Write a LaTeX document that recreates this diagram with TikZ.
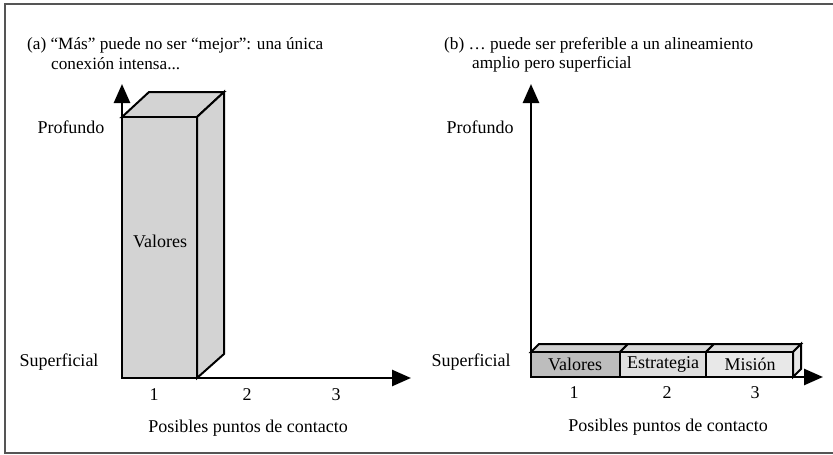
\documentclass[tikz,border=0pt]{standalone}
\usepackage{fontspec}
\setmainfont{Liberation Serif}
\usetikzlibrary{arrows.meta}
\definecolor{boxgray}{HTML}{D3D3D3}
\definecolor{vfront}{HTML}{BDBDBD}
\definecolor{vtop}{HTML}{D0D0D0}
\definecolor{efront}{HTML}{DEDEDE}
\definecolor{etop}{HTML}{D8D8D8}
\definecolor{mfront}{HTML}{E8E8E8}
\definecolor{mtop}{HTML}{DCDCDC}
\definecolor{framegray}{HTML}{555555}
\begin{document}
\begin{tikzpicture}[x=1pt,y=-1pt,
  txt/.style={font=\fontsize{18}{21}\selectfont, inner sep=0pt},
  ttl/.style={font=\fontsize{17.2}{20}\selectfont, inner sep=0pt, anchor=west},
  axis/.style={line width=2.6pt, -{Triangle[length=19pt,width=16pt]}},
  face/.style={draw=black, line width=2pt, line join=miter},
  frame/.style={draw=framegray, line width=2pt}]
\useasboundingbox (0,0) rectangle (833,455);
% frame
\draw[frame] (833,4) -- (5,4) -- (5,453) -- (833,453);

% ---------- panel (a)
\node[ttl] (ta1) at (27,45) {(a) “Más” puede no ser “mejor”: una única};
\node[ttl] (ta2) at (51,64) {conexión intensa...};
\coordinate (oa) at (122,378);
\coordinate (ya) at (122,84);
\coordinate (xa) at (411,378);
% tall box
\filldraw[face, fill=boxgray] (122,117) -- (149,92) -- (224,92) -- (197,117) -- cycle;
\filldraw[face, fill=boxgray] (197,117) -- (224,92) -- (224,354) -- (197,378) -- cycle;
\filldraw[face, fill=boxgray] (122,117) rectangle (197,378);
\node[txt] (va) at (160,241) {Valores};
\draw[axis] (oa) -- (ya);
\draw[axis] (oa) -- (xa);
\node[txt] (pa) at (71,127) {Profundo};
\node[txt] (sa) at (59,362) {Superficial};
\node[txt] (a1) at (154,395) {1};
\node[txt] (a2) at (247,395) {2};
\node[txt] (a3) at (336,395) {3};
\node[txt] (xla) at (248,428) {Posibles puntos de contacto};

% ---------- panel (b)
\node[ttl] (tb1) at (444,45) {(b) … puede ser preferible a un alineamiento};
\node[ttl] (tb2) at (472,64) {amplio pero superficial};
\coordinate (ob) at (531,377);
\coordinate (yb) at (531,84);
\coordinate (xb) at (823,377);
% flat boxes
\filldraw[face, fill=vtop] (531,352) -- (539,344) -- (628,344) -- (620,352) -- cycle;
\filldraw[face, fill=etop] (620,352) -- (628,344) -- (714,344) -- (706,352) -- cycle;
\filldraw[face, fill=mtop] (706,352) -- (714,344) -- (801,344) -- (793,352) -- cycle;
\filldraw[face, fill=mfront] (793,352) -- (801,344) -- (801,369) -- (793,377) -- cycle;
\filldraw[face, fill=vfront] (531,352) rectangle (620,377);
\filldraw[face, fill=efront] (620,352) rectangle (706,377);
\filldraw[face, fill=mfront] (706,352) rectangle (793,377);
\node[txt] (vb) at (575,364) {Valores};
\node[txt] (eb) at (663,364) {Estrategia};
\node[txt] (mb) at (750,364) {Misión};
\draw[axis] (ob) -- (yb);
\draw[axis] (ob) -- (xb);
\node[txt] (pb) at (480,127) {Profundo};
\node[txt] (sb) at (471,362) {Superficial};
\node[txt] (b1) at (574,393) {1};
\node[txt] (b2) at (667,393) {2};
\node[txt] (b3) at (755,393) {3};
\node[txt] (xlb) at (668,427) {Posibles puntos de contacto};
\end{tikzpicture}
\end{document}
